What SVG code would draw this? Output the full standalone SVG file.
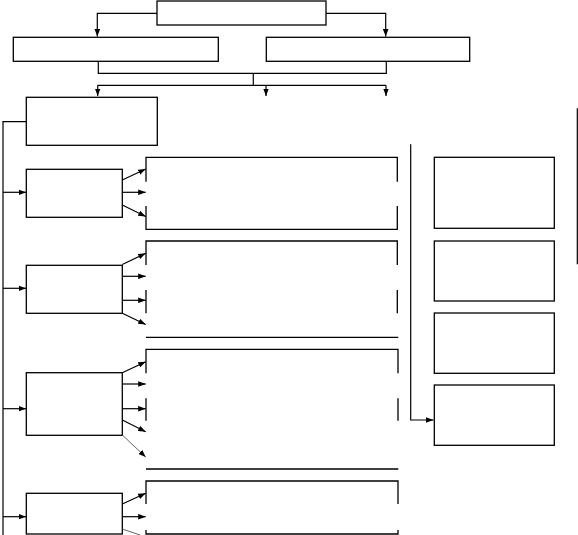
<svg xmlns="http://www.w3.org/2000/svg" width="578" height="535" viewBox="0 0 578 535">
<style>
.b{fill:none;stroke:#000;stroke-width:1.3}
.c{fill:none;stroke:#000;stroke-width:1.2}
.a{marker-end:url(#ah)}
.g{stroke:#555;stroke-width:0.9}
</style>
<defs>
<marker id="ah" markerUnits="userSpaceOnUse" markerWidth="8" markerHeight="6" refX="7.5" refY="3" orient="auto">
<path d="M0,0.2 L7.5,3 L0,5.8 z" fill="#000"/>
</marker>
</defs>
<rect width="578" height="535" fill="#fff"/>
<g id="n-top"><rect class="b" x="157" y="1" width="169" height="24"/></g>
<g id="n-left2"><rect class="b" x="13.3" y="37.3" width="205" height="24"/></g>
<g id="n-right2"><rect class="b" x="266.3" y="37.3" width="203.4" height="24"/></g>
<g id="n-3"><rect class="b" x="26.3" y="97.3" width="131" height="48"/></g>
<g id="n-4"><rect class="b" x="26.3" y="169.3" width="96" height="48"/></g>
<g id="n-5"><rect class="b" x="26.3" y="265.3" width="96" height="48"/></g>
<g id="n-6"><rect class="b" x="26.3" y="372.7" width="96" height="62.6"/></g>
<g id="n-7"><rect class="b" x="26.3" y="493.3" width="96" height="40.7"/></g>
<g id="r-1"><rect class="b" x="434.3" y="157.3" width="120" height="71"/></g>
<g id="r-2"><rect class="b" x="434.3" y="241" width="120" height="60"/></g>
<g id="r-3"><rect class="b" x="434.3" y="313" width="120" height="60.3"/></g>
<g id="r-4"><rect class="b" x="434.3" y="385" width="120" height="60.3"/></g>
<g id="bk-A"><path class="b" d="M146,181.7 V157.3 H397.3 V181.7 M146,206 V229.3 H397.3 V206"/></g>
<g id="bk-B"><path class="b" d="M146,265 V241 H397.3 V265 M146,290 V313.3 M397.3,290 V313.3 M146,337.3 H398.3"/></g>
<g id="bk-C"><path class="b" d="M146,373.3 V349.3 H398 V373.3 M146,398.3 V420.7 M398,398.3 V420.7 M146,469 H398.3"/></g>
<g id="bk-D"><path class="b" d="M146,504 V481 H398 V504 M146,530 V534 H398 V530"/></g>
<g id="connectors">
<path class="c a" d="M157,13.3 H97.3 V36.5"/>
<path class="c a" d="M326,13.3 H385.7 V36.5"/>
<path class="c" d="M98.3,61.3 V73.3 H386.3 V61.3 M253.3,73.3 V85.3 M97.7,85.3 H386"/>
<path class="c a" d="M97.7,85.3 V96"/>
<path class="c a" d="M266,85.3 V96"/>
<path class="c a" d="M386,85.3 V96"/>
<path class="c" d="M26.3,121.7 H3 V535"/>
<path class="c a" d="M3,192.3 H26"/>
<path class="c a" d="M3,288.3 H26"/>
<path class="c a" d="M3,408.7 H26"/>
<path class="c a" d="M3,516.7 H26"/>
<path class="c a" d="M122.3,180 L145.7,169"/>
<path class="c a" d="M122.3,192.3 H145.7"/>
<path class="c a" d="M122.3,205 L145.7,216.5"/>
<path class="c a" d="M122.3,264.5 L145.7,253.3"/>
<path class="c a" d="M122.3,276.3 H145.7"/>
<path class="c a" d="M122.3,300.3 H145.7"/>
<path class="c a" d="M122.3,313.3 L145.7,324.5"/>
<path class="c a" d="M122.3,372.7 L145.7,361.7"/>
<path class="c a" d="M122.3,384 H145.7"/>
<path class="c a" d="M122.3,408.7 H145.7"/>
<path class="c a" d="M122.3,420 L145.7,431.7"/>
<path class="c g a" d="M122.3,435 L145.7,457"/>
<path class="c a" d="M122.3,504 L145.7,493.3"/>
<path class="c a" d="M122.3,516.7 H145.7"/>
<path class="c g" d="M122.3,529 L140,535"/>
<path class="c a" d="M410.7,144.3 V420 H433.5"/>
<path class="c" d="M577.3,108.3 V264.3"/>
</g>
</svg>
